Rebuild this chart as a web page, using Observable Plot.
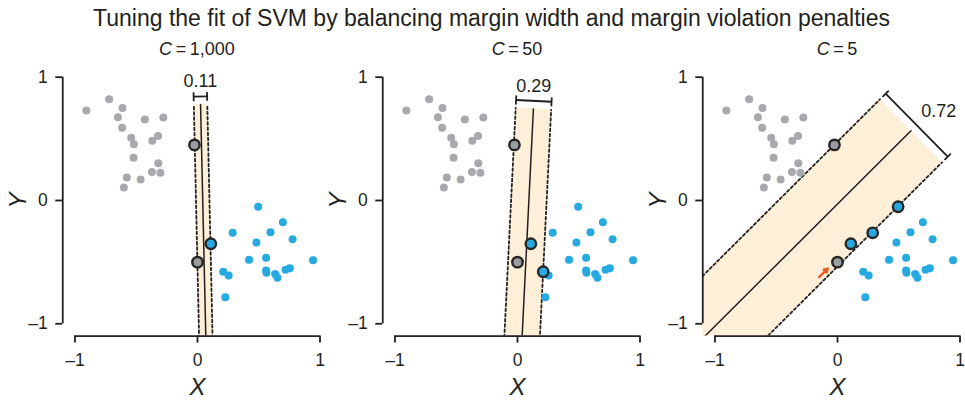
<!DOCTYPE html>
<html><head><meta charset="utf-8">
<script src="https://cdn.jsdelivr.net/npm/d3@7"></script>
<script src="https://cdn.jsdelivr.net/npm/@observablehq/plot@0.6"></script>
<style>
body{margin:0;background:#fff;font-family:"Liberation Sans",Arial,sans-serif;color:#231f20}
#wrap{position:relative;width:965px;height:405px;overflow:hidden;background:#fff}
#title{position:absolute;left:9px;width:965px;top:7px;text-align:center;font-size:23px;line-height:23px;white-space:nowrap;z-index:2}
.ptitle{position:absolute;top:40px;font-size:18px;line-height:18px;white-space:nowrap;transform:translateX(-50%);z-index:2}
.panel{position:absolute;top:0}
</style></head><body>
<div id="wrap"><div id="title">Tuning the fit of SVM by balancing margin width and margin violation penalties</div></div>
<script>
// ---- data ----
const panelC = ["1,000", "50", "5"];
const marginWidths = [0.11, 0.29, 0.72];
// centre line (hyperplane) end points per panel: [bottom/left, top/right]
const hyperplaneEnds = [
  [[0.070, -1.2], [0.025, 0.778]],
  [[0.033, -1.2], [0.130, 0.743]],
  [[-1.3, -1.316], [0.60, 0.565]]
];
const grayPoints = [
  [-0.907, 0.730], [-0.721, 0.822], [-0.612, 0.751], [-0.650, 0.676], [-0.429, 0.657],
  [-0.279, 0.673], [-0.615, 0.589], [-0.541, 0.508], [-0.519, 0.457], [-0.322, 0.524],
  [-0.369, 0.484], [-0.522, 0.346], [-0.320, 0.303], [-0.372, 0.232], [-0.303, 0.224],
  [-0.577, 0.186], [-0.464, 0.170], [-0.601, 0.105], [-0.025, 0.451], [0.0, -0.5]
];
const bluePoints = [
  [0.495, -0.051], [0.697, -0.176], [0.287, -0.262], [0.596, -0.257], [0.776, -0.314],
  [0.481, -0.341], [0.421, -0.481], [0.560, -0.465], [0.943, -0.484], [0.210, -0.578],
  [0.254, -0.608], [0.560, -0.568], [0.563, -0.586], [0.719, -0.562], [0.754, -0.549],
  [0.634, -0.597], [0.653, -0.627], [0.227, -0.784], [0.109, -0.351]
];
// support vectors per panel: [x, y, class]
const supportVectors = [
  [[-0.025, 0.451, "gray"], [0.0, -0.5, "gray"], [0.109, -0.351, "blue"]],
  [[-0.025, 0.451, "gray"], [0.0, -0.5, "gray"], [0.109, -0.351, "blue"], [0.210, -0.578, "blue"]],
  [[-0.025, 0.451, "gray"], [0.0, -0.5, "gray"], [0.109, -0.351, "blue"], [0.287, -0.262, "blue"], [0.495, -0.051, "blue"]]
];
// red arrow marking a margin violation: [[tail],[head]]
const violationArrows = [[], [], [[[-0.150, -0.622], [-0.080, -0.552]]]];
const xTicks = [-1, 0, 1];
const yTicks = [-1, 0, 1];
const xDomain = [-1.1, 1];
const yDomain = [-1.1, 1];
const axisTitles = ["X", "Y"];

// ---- styling ----
const INK = "#231f20";
const GRAY = "#a7a9ac", GRAY_SV = "#9a9c9f", BLUE = "#27a9e1", BAND = "#fdefd8", RED = "#f15a24";
const labelOffsets = [[0, -15], [0, -15], [22, -14]];
const fmt = d => d < 0 ? "\u2013" + (-d) : String(d);

const wrap = document.getElementById("wrap");
panelC.forEach((c, i) => {
  const [p0, p1] = hyperplaneEnds[i];
  const len = Math.hypot(p1[0] - p0[0], p1[1] - p0[1]);
  const u = [(p1[0] - p0[0]) / len, (p1[1] - p0[1]) / len];
  const n = [u[1], -u[0]];
  const h = marginWidths[i] / 2;
  const add = (p, v, k) => [p[0] + v[0] * k, p[1] + v[1] * k];
  const A = add(p0, n, -h), B = add(p0, n, h), D = add(p1, n, -h), C = add(p1, n, h);
  const band = [{x1: A[0], y1: A[1], x2: B[0], y2: B[1]}, {x1: D[0], y1: D[1], x2: C[0], y2: C[1]}];
  const dashed = [
    {x: A[0], y: A[1], g: "l"}, {x: D[0], y: D[1], g: "l"},
    {x: B[0], y: B[1], g: "r"}, {x: C[0], y: C[1], g: "r"}
  ];
  const centre = [{x: p0[0], y: p0[1]}, {x: p1[0], y: p1[1]}];
  const E = add(p1, u, 0.065);
  const E1 = add(E, n, -h), E2 = add(E, n, h);
  const t = 0.036;
  const seg = (a, b) => ({x1: a[0], y1: a[1], x2: b[0], y2: b[1]});
  const bracket = [seg(E1, E2), seg(add(E1, u, -t), add(E1, u, t)), seg(add(E2, u, -t), add(E2, u, t))];
  const bracketLabel = [{x: E[0], y: E[1], t: marginWidths[i].toFixed(2)}];
  const sv = supportVectors[i];

  const svg = Plot.plot({
    width: 325, height: 405,
    marginLeft: 62.25, marginRight: 5.5, marginTop: 76.7, marginBottom: 69.4,
    x: {domain: xDomain},
    y: {domain: yDomain},
    style: {fontFamily: "Liberation Sans, Arial, sans-serif", background: "transparent", overflow: "visible", color: INK},
    marks: [
      Plot.area(band, {x1: "x1", y1: "y1", x2: "x2", y2: "y2", fill: BAND, clip: true}),
      Plot.line(dashed, {x: "x", y: "y", z: "g", stroke: INK, strokeWidth: 1.8, strokeDasharray: "2.6,2.6", clip: true}),
      Plot.line(centre, {x: "x", y: "y", stroke: INK, strokeWidth: 1.5, clip: true}),
      Plot.dot(grayPoints, {x: d => d[0], y: d => d[1], r: 4, fill: GRAY}),
      Plot.dot(bluePoints, {x: d => d[0], y: d => d[1], r: 4, fill: BLUE}),
      Plot.dot(sv.filter(d => d[2] === "gray"), {x: d => d[0], y: d => d[1], r: 5.2, fill: GRAY_SV, stroke: "#262626", strokeWidth: 2.4}),
      Plot.dot(sv.filter(d => d[2] === "blue"), {x: d => d[0], y: d => d[1], r: 5.2, fill: BLUE, stroke: "#262626", strokeWidth: 2.4}),
      Plot.link(bracket, {x1: "x1", y1: "y1", x2: "x2", y2: "y2", stroke: INK, strokeWidth: 1.8}),
      Plot.text(bracketLabel, {x: "x", y: "y", text: "t", dx: labelOffsets[i][0], dy: labelOffsets[i][1], fontSize: 18, fill: INK}),
      Plot.arrow(violationArrows[i], {x1: d => d[0][0], y1: d => d[0][1], x2: d => d[1][0], y2: d => d[1][1], stroke: RED, strokeWidth: 2.4, headLength: 7}),
      Plot.ruleX([{x: xDomain[0], y1: d3.min(yTicks), y2: d3.max(yTicks)}], {x: "x", y1: "y1", y2: "y2", stroke: INK, strokeWidth: 1.8}),
      Plot.ruleY([{y: yDomain[0], x1: d3.min(xTicks), x2: d3.max(xTicks)}], {y: "y", x1: "x1", x2: "x2", stroke: INK, strokeWidth: 1.8}),
      Plot.axisX(xTicks, {tickSize: 7, tickPadding: 10, fontSize: 17.5, strokeWidth: 1.8, stroke: INK, fill: INK, label: null, tickFormat: fmt}),
      Plot.axisY(yTicks, {tickSize: 7, tickPadding: 8, fontSize: 17.5, strokeWidth: 1.8, stroke: INK, fill: INK, label: null, tickFormat: fmt}),
      Plot.text([axisTitles[0]], {x: 0, frameAnchor: "bottom", dy: 51, lineAnchor: "middle", textAnchor: "middle", fontSize: 24, fontStyle: "italic", fill: INK}),
      Plot.text([axisTitles[1]], {y: 0, frameAnchor: "left", dx: -44, rotate: -90, lineAnchor: "middle", textAnchor: "middle", fontSize: 24, fontStyle: "italic", fill: INK})
    ]
  });
  const holder = document.createElement("div");
  holder.className = "panel";
  holder.style.left = (i * 320) + "px";
  holder.appendChild(svg);
  wrap.appendChild(holder);

  const pt = document.createElement("div");
  pt.className = "ptitle";
  pt.style.left = (i * 320 + 197) + "px";
  pt.innerHTML = "<i>C</i>\u2009=\u2009" + c;
  wrap.appendChild(pt);
});
</script>
</body></html>
